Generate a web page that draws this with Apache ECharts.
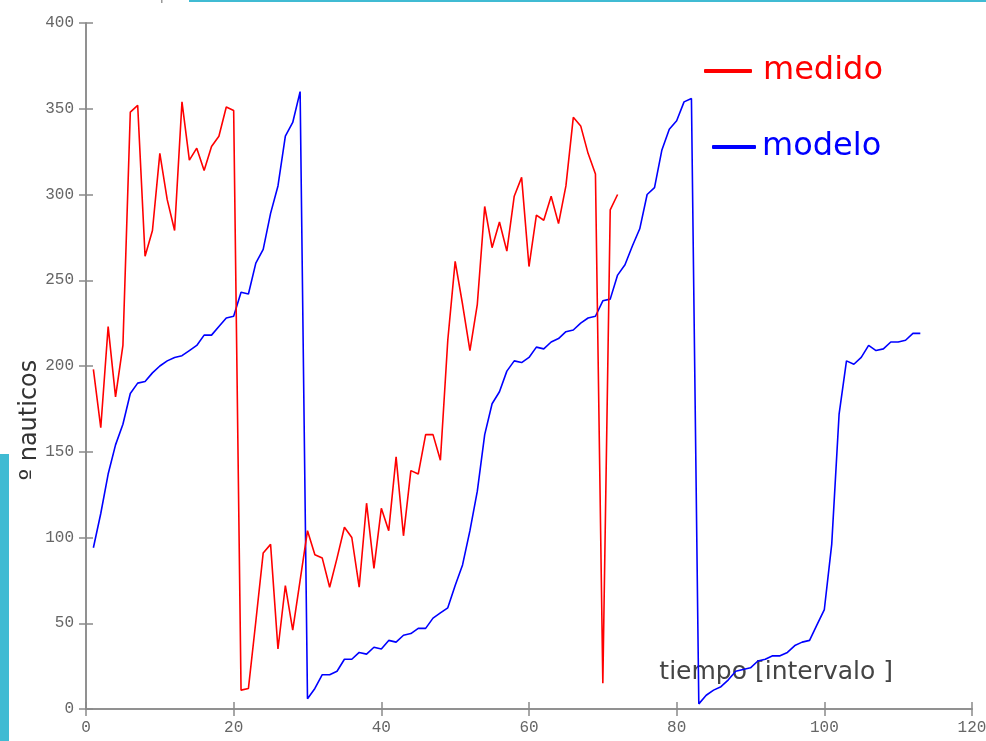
<!DOCTYPE html>
<html>
<head>
<meta charset="utf-8">
<script src="https://cdn.jsdelivr.net/npm/echarts@6/dist/echarts.min.js"></script>
<style>
  html, body { margin: 0; padding: 0; background: #fff; }
  #chart { width: 986px; height: 741px; }
</style>
</head>
<body>
<div id="chart"></div>
<script>
// Heading in nautical degrees, sampled per time interval
const medido = [
  198, 164, 223, 182, 212, 348, 352, 264, 279, 324,
  297, 279, 354, 320, 327, 314, 328, 334, 351, 349,
  11, 12, 51, 91, 96, 35, 72, 46, 75, 104,
  90, 88, 71, 88, 106, 100, 71, 120, 82, 117,
  104, 147, 101, 139, 137, 160, 160, 145, 215, 261,
  236, 209, 236, 293, 269, 284, 267, 299, 310, 258,
  288, 285, 299, 283, 305, 345, 340, 324, 312, 15,
  291, 300
];
const modelo = [
  94, 114, 137, 154, 166, 184, 190, 191, 196, 200,
  203, 205, 206, 209, 212, 218, 218, 223, 228, 229,
  243, 242, 260, 268, 289, 305, 334, 342, 360, 6,
  12, 20, 20, 22, 29, 29, 33, 32, 36, 35,
  40, 39, 43, 44, 47, 47, 53, 56, 59, 72,
  84, 104, 127, 160, 178, 185, 197, 203, 202, 205,
  211, 210, 214, 216, 220, 221, 225, 228, 229, 238,
  239, 253, 259, 270, 280, 300, 304, 326, 338, 343,
  354, 356, 3, 8, 11, 13, 17, 22, 23, 24,
  28, 29, 31, 31, 33, 37, 39, 40, 49, 58,
  96, 172, 203, 201, 205, 212, 209, 210, 214, 214,
  215, 219, 219
];
const xTicks = { min: 0, max: 120, step: 20 };
const yTicks = { min: 0, max: 400, step: 50 };
const xName = 'tiempo [intervalo ]';
const yName = 'º nauticos';

// Pair each sample with its interval index (1-based)
const toPoints = arr => arr.map((v, i) => [i + 1, v]);

const axisGray = '#8a8a8a';
const labelStyle = { color: '#666', fontFamily: 'Liberation Mono', fontSize: 16 };

const chart = echarts.init(document.getElementById('chart'), null, { renderer: 'canvas' });

chart.setOption({
  animation: false,
  backgroundColor: '#fff',
  grid: {
    left: 86, top: 23, width: 886, height: 686, show: false,
    containLabel: false, outerBoundsMode: 'none'
  },
  xAxis: [
    {
      type: 'value', min: xTicks.min, max: xTicks.max, interval: xTicks.step,
      position: 'bottom',
      axisLine: { show: true, lineStyle: { color: axisGray, width: 1.5 } },
      axisTick: { show: true, inside: true, length: 7, lineStyle: { color: axisGray, width: 1.5 } },
      axisLabel: Object.assign({ margin: 11 }, labelStyle),
      splitLine: { show: false },
      // the title sits inside the plot, raised above the bottom axis line
      name: '{t|' + xName + '}\n{s|}',
      nameLocation: 'end',
      nameGap: -79,
      nameMoveOverlap: false,
      nameTextStyle: {
        align: 'right', verticalAlign: 'middle',
        rich: {
          t: { color: '#444', fontFamily: 'DejaVu Sans', fontSize: 25, height: 30, align: 'right' },
          s: { height: 74 }
        }
      }
    },
    {
      type: 'value', min: xTicks.min, max: xTicks.max, interval: xTicks.step,
      position: 'top',
      axisLine: { show: true, lineStyle: { color: axisGray, width: 1.5 } },
      axisTick: { show: true, inside: true, length: 7, lineStyle: { color: axisGray, width: 1.5 } },
      axisLabel: { show: false },
      splitLine: { show: false }
    }
  ],
  yAxis: [
    {
      type: 'value', min: yTicks.min, max: yTicks.max, interval: yTicks.step,
      position: 'left',
      axisLine: { show: true, lineStyle: { color: axisGray, width: 1.5 } },
      axisTick: { show: true, inside: true, length: 7, lineStyle: { color: axisGray, width: 1.5 } },
      axisLabel: Object.assign({ margin: 12 }, labelStyle),
      splitLine: { show: false },
      name: yName,
      nameLocation: 'middle',
      nameGap: 44,
      nameMoveOverlap: false,
      nameTextStyle: {
        color: '#333', fontFamily: 'DejaVu Sans', fontSize: 24,
        padding: [0, 108, 0, 0]
      }
    },
    {
      type: 'value', min: yTicks.min, max: yTicks.max, interval: yTicks.step,
      position: 'right',
      axisLine: { show: true, lineStyle: { color: axisGray, width: 1.5 } },
      axisTick: { show: true, inside: true, length: 7, lineStyle: { color: axisGray, width: 1.5 } },
      axisLabel: { show: false },
      splitLine: { show: false }
    }
  ],
  legend: [
    {
      data: [{ name: 'medido', textStyle: { color: '#ff0000' } }],
      left: 704, top: 53, orient: 'vertical', padding: 0,
      icon: 'roundRect', itemWidth: 48, itemHeight: 4,
      textStyle: { fontFamily: 'DejaVu Sans', fontSize: 32, lineHeight: 36, padding: [0, 0, 0, 6] }
    },
    {
      data: [{ name: 'modelo', textStyle: { color: '#0000ff' } }],
      left: 712, top: 129, orient: 'vertical', padding: 0,
      icon: 'roundRect', itemWidth: 44, itemHeight: 4,
      textStyle: { fontFamily: 'DejaVu Sans', fontSize: 32, lineHeight: 36, padding: [0, 0, 0, 1] }
    }
  ],
  series: [
    {
      name: 'modelo', type: 'line', data: toPoints(modelo),
      xAxisIndex: 0, yAxisIndex: 0,
      showSymbol: false, symbol: 'none', z: 2,
      itemStyle: { color: '#0000ff' },
      lineStyle: { color: '#0000ff', width: 1.6 }
    },
    {
      name: 'medido', type: 'line', data: toPoints(medido),
      xAxisIndex: 0, yAxisIndex: 0,
      showSymbol: false, symbol: 'none', z: 3,
      itemStyle: { color: '#ff0000' },
      lineStyle: { color: '#ff0000', width: 1.6 }
    }
  ],
  // Slide frame accents around the figure
  graphic: [
    { type: 'rect', shape: { x: 189, y: 0, width: 797, height: 2 }, style: { fill: '#40bbd3' }, silent: true },
    { type: 'rect', shape: { x: 161, y: 0, width: 1.5, height: 3 }, style: { fill: '#999' }, silent: true },
    { type: 'rect', shape: { x: 0, y: 454, width: 9, height: 287 }, style: { fill: '#40bbd3' }, silent: true }
  ]
});
</script>
</body>
</html>
